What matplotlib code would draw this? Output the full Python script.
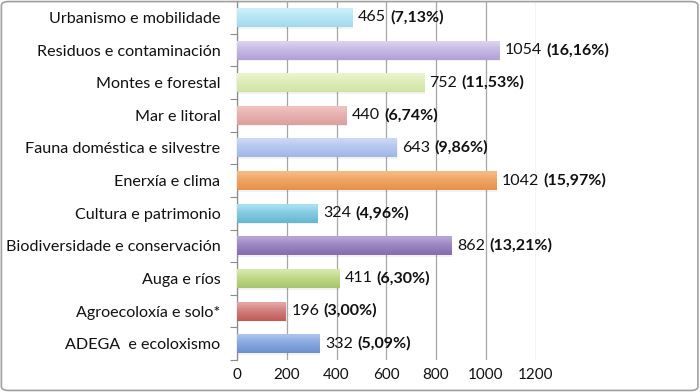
import matplotlib
matplotlib.use("Agg")
import matplotlib.pyplot as plt
import numpy as np
from matplotlib.colors import to_rgb, LinearSegmentedColormap
from matplotlib.patches import FancyBboxPatch, Rectangle

categories = ["ADEGA  e ecoloxismo", "Agroecoloxía e solo*", "Auga e ríos",
              "Biodiversidade e conservación", "Cultura e patrimonio", "Enerxía e clima",
              "Fauna doméstica e silvestre", "Mar e litoral", "Montes e forestal",
              "Residuos e contaminación", "Urbanismo e mobilidade"]
values = [332, 196, 411, 862, 324, 1042, 643, 440, 752, 1054, 465]
percents = ["5,09%", "3,00%", "6,30%", "13,21%", "4,96%", "15,97%", "9,86%", "6,74%",
            "11,53%", "16,16%", "7,13%"]
top_colors = ["#A9C2EE", "#E2A5A3", "#D6E9A9", "#B7A4D7", "#A9E0F1", "#F7BA80",
              "#CAD8F6", "#F0C2C1", "#EAF5CB", "#DCD1F0", "#CDEFFA"]
bot_colors = ["#7195D2", "#C4625F", "#AECA70", "#8A72B2", "#6BBBD5", "#EA954F",
              "#A5BBE9", "#DEA4A2", "#D5E7A9", "#B5A6D8", "#A6DEEF"]
xticks = [0, 200, 400, 600, 800, 1000, 1200]

FONT = "Lato"
plt.rcParams['font.family'] = [FONT, 'DejaVu Sans']

fig = plt.figure(figsize=(7, 3.92), dpi=100)
ax = fig.add_axes([237/700, 1-360/392, (535.5-237)/700, 360/392 - 0.003])

h = 0.58
n = len(categories)
for i, (v, tc, bc) in enumerate(zip(values, top_colors, bot_colors)):
    b = np.array(to_rgb(bc)); t = np.array(to_rgb(tc))
    cmap = LinearSegmentedColormap.from_list(
        "g", [(0.0, b * 0.97), (0.12, b), (0.6, (b + t) / 2), (0.92, t), (1.0, t)])
    grad = np.linspace(0, 1, 64).reshape(-1, 1)
    ax.add_patch(Rectangle((0, i - h/2 - 0.05), v + 3, h, facecolor="#000000", alpha=0.05,
                           edgecolor="none", zorder=2))
    ax.imshow(grad, extent=(0, v, i - h/2, i + h/2), origin="lower", aspect="auto",
              cmap=cmap, zorder=3, interpolation="bicubic")
    t1 = ax.annotate(f"{v}", xy=(v, i), xytext=(4, 0), textcoords="offset points",
                     ha="left", va="center", fontsize=11.5, color="#111111", zorder=5)
    ax.annotate(f"({percents[i]})", xy=(1, 0), xycoords=t1, xytext=(3, 0),
                textcoords="offset points", ha="left", va="bottom", fontsize=11.5,
                fontweight="bold", color="#111111", zorder=5)

ax.set_xlim(0, 1200)
ax.set_ylim(-0.5, n - 0.5)
ax.set_xticks(xticks)
ax.set_xticklabels([str(x) for x in xticks], fontsize=11, color="#111111")
ax.set_yticks(np.arange(n))
ax.set_yticklabels(categories, fontsize=11.6, color="#111111")
ax.set_yticks(np.arange(-0.5, n, 1), minor=True)
ax.tick_params(axis="y", which="major", length=0, pad=12)
ax.tick_params(axis="y", which="minor", length=5, color="#8C8C8C", width=0.8)
ax.tick_params(axis="x", length=0, pad=6)
ax.grid(axis="x", color="#A6A6A6", linewidth=0.9, zorder=1)
ax.set_axisbelow(True)
for s in ["top", "right", "bottom"]:
    ax.spines[s].set_visible(False)
ax.spines["left"].set_color("#8C8C8C")
ax.spines["left"].set_linewidth(0.9)

border = FancyBboxPatch((0.002, 0.004), 0.995, 0.992, boxstyle="round,pad=0,rounding_size=0.01",
                        transform=fig.transFigure, fill=False, edgecolor="#A0A0A0",
                        linewidth=1.2)
fig.patches.append(border)

fig.savefig("out.png", dpi=100)
